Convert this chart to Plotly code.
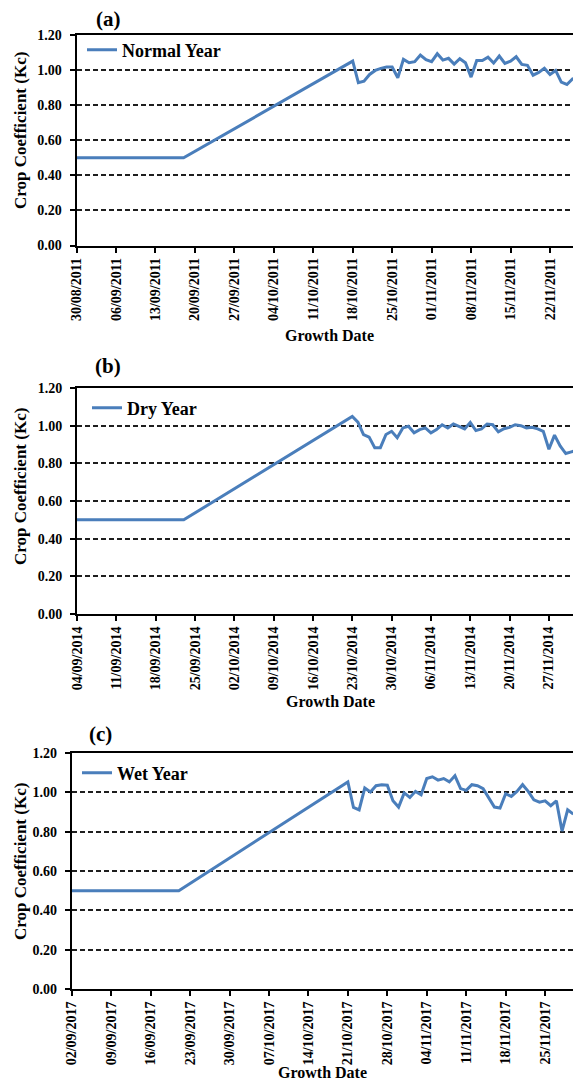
import plotly.graph_objects as go
import pandas as pd

W, H = 581, 1083
OFF = 8  # the page body adds an 8px margin; positions below are page pixels

# ---------------- data ----------------
# Panel (a) Normal Year 2011
a_dates_key = ["2011-08-30", "2011-09-18"]          # initial stage (flat)
a_init_vals = [0.50, 0.50]
a_peak_date = "2011-10-18"                          # daily values start here
a_daily_vals = [1.051, 0.928, 0.937, 0.975, 0.998, 1.010, 1.017, 1.017, 0.956, 1.061,
                1.042, 1.048, 1.086, 1.059, 1.048, 1.093, 1.057, 1.067, 1.034, 1.065,
                1.042, 0.960, 1.055, 1.055, 1.074, 1.040, 1.080, 1.038, 1.051, 1.076,
                1.032, 1.027, 0.971, 0.987, 1.010, 0.975, 0.998, 0.931, 0.918, 0.950,
                0.941]

# Panel (b) Dry Year 2014
b_dates_key = ["2014-09-04", "2014-09-23"]
b_init_vals = [0.50, 0.50]
b_peak_date = "2014-10-23"
b_daily_vals = [1.049, 1.019, 0.953, 0.939, 0.883, 0.883, 0.953, 0.970, 0.936, 0.988,
                0.997, 0.962, 0.979, 0.988, 0.962, 0.979, 1.005, 0.988, 1.009, 0.997,
                0.983, 1.017, 0.974, 0.983, 1.009, 1.005, 0.967, 0.984, 0.991, 1.005,
                1.000, 0.988, 0.991, 0.983, 0.970, 0.875, 0.950, 0.892, 0.852, 0.861,
                0.870]

# Panel (c) Wet Year 2017
c_dates_key = ["2017-09-02", "2017-09-21"]
c_init_vals = [0.50, 0.50]
c_peak_date = "2017-10-21"
c_daily_vals = [1.053, 0.923, 0.911, 1.022, 1.002, 1.034, 1.039, 1.036, 0.957, 0.925,
                0.997, 0.974, 1.005, 0.988, 1.070, 1.079, 1.062, 1.070, 1.053, 1.084,
                1.019, 1.010, 1.039, 1.034, 1.019, 0.971, 0.925, 0.920, 0.993, 0.979,
                1.005, 1.039, 1.005, 0.962, 0.950, 0.957, 0.932, 0.957, 0.803, 0.911,
                0.889]

series_names = ["Normal Year", "Dry Year", "Wet Year"]
panel_labels = ["(a)", "(b)", "(c)"]
x_ranges = [["2011-08-30", "2011-11-27 12:00"],
            ["2014-09-04", "2014-12-02"],
            ["2017-09-02", "2017-11-30"]]
y_title = "Crop Coefficient (Kc)"
x_title = "Growth Date"

# ---------------- layout geometry (page pixels) ----------------
panels_px = [  # left, right, top, bottom of plot area
    (76.5, 581.0, 35.0, 245.5),
    (77.0, 577.0, 388.0, 614.0),
    (71.7, 573.3, 753.0, 989.0),
]
legend_px = [(82, 50), (87, 408), (77, 773)]
label_px = [(108, 19), (108, 366), (100, 734)]
ytitle_px = [(20, 131), (20, 487), (20, 862)]
xtitle_px = [(329, 335), (330, 701), (322, 1072)]


def fx(px):
    return min(max((px - OFF) / W, 0.0), 1.0)


def fy(py):
    return min(max(1 - (py - OFF) / H, 0.0), 1.0)


LINE = "#4a7ebb"
FONT = "Liberation Serif"

fig = go.Figure()
datasets = [
    (a_dates_key, a_init_vals, a_peak_date, a_daily_vals),
    (b_dates_key, b_init_vals, b_peak_date, b_daily_vals),
    (c_dates_key, c_init_vals, c_peak_date, c_daily_vals),
]

layout = dict(
    width=W, height=H,
    margin=dict(l=0, r=0, t=0, b=0, pad=0, autoexpand=False),
    paper_bgcolor="white", plot_bgcolor="white",
    font=dict(family=FONT, color="black"),
    annotations=[], showlegend=True,
)

for i, (keys, init, peak, daily) in enumerate(datasets):
    n = i + 1
    sfx = "" if n == 1 else str(n)
    xs = list(pd.to_datetime(keys)) + list(pd.date_range(peak, periods=len(daily), freq="D"))
    ys = init + daily
    fig.add_trace(go.Scatter(
        x=xs, y=ys, mode="lines", name=series_names[i],
        line=dict(color=LINE, width=3),
        xaxis="x" + sfx, yaxis="y" + sfx,
        legend="legend" + sfx,
    ))
    l, r, t, b = panels_px[i]
    layout["xaxis" + sfx] = dict(
        domain=[fx(l), fx(r)], anchor="y" + sfx,
        type="date", range=x_ranges[i], automargin=False,
        tick0=x_ranges[i][0], dtick=7 * 86400000, tickformat="%d/%m/%Y",
        tickangle=-90, ticks="outside", ticklen=5, tickwidth=1.5, tickcolor="black",
        tickfont=dict(family=FONT, size=14, weight="bold", color="black"),
        showline=True, linecolor="black", linewidth=2, mirror=True,
        showgrid=False, zeroline=False, fixedrange=True,
    )
    layout["yaxis" + sfx] = dict(
        domain=[fy(b), fy(t)], anchor="x" + sfx, automargin=False,
        range=[0, 1.2], dtick=0.2, tick0=0, tickformat=".2f",
        ticks="outside", ticklen=5, tickwidth=1.5, tickcolor="black",
        ticklabelstandoff=5,
        tickfont=dict(family=FONT, size=14, weight="bold", color="black"),
        showline=True, linecolor="black", linewidth=2, mirror=(n != 1),
        showgrid=True, gridcolor="#1e1e1e", gridwidth=1.6, griddash="5px,3px",
        zeroline=False, fixedrange=True,
    )
    lx, ly = legend_px[i]
    layout["legend" + sfx] = dict(
        x=fx(lx), y=fy(ly), xanchor="left", yanchor="middle",
        bgcolor="rgba(0,0,0,0)", borderwidth=0, itemwidth=30,
        font=dict(family=FONT, size=18, weight="bold", color="black"),
    )
    px_, py_ = label_px[i]
    layout["annotations"].append(dict(
        text=panel_labels[i], x=fx(px_), y=fy(py_), xref="paper", yref="paper",
        showarrow=False, xanchor="center", yanchor="middle",
        font=dict(family=FONT, size=21, weight="bold", color="black"),
    ))
    tx, ty = ytitle_px[i]
    layout["annotations"].append(dict(
        text=y_title, x=fx(tx), y=fy(ty), xref="paper", yref="paper",
        showarrow=False, xanchor="center", yanchor="middle", textangle=-90,
        font=dict(family=FONT, size=17, weight="bold", color="black"),
    ))
    gx, gy = xtitle_px[i]
    layout["annotations"].append(dict(
        text=x_title, x=fx(gx), y=fy(gy), xref="paper", yref="paper",
        showarrow=False, xanchor="center", yanchor="middle",
        font=dict(family=FONT, size=16, weight="bold", color="black"),
    ))

fig.update_layout(**layout)
fig.write_html("out.html")
